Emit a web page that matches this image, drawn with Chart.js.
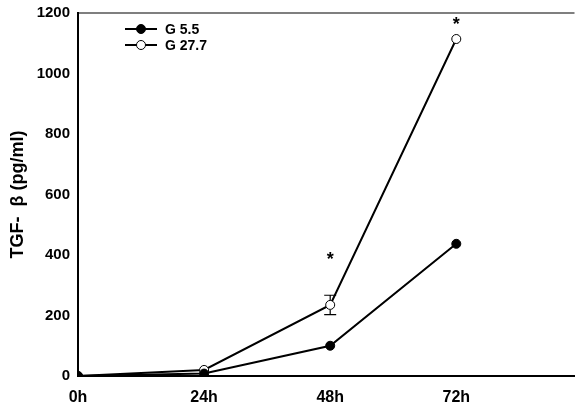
<!DOCTYPE html>
<html>
<head>
<meta charset="utf-8">
<script src="https://cdn.jsdelivr.net/npm/chart.js@4"></script>
<style>
  html, body { margin: 0; padding: 0; background: #fff; }
  #wrap { width: 580px; height: 410px; }
</style>
</head>
<body>
<div id="wrap"><canvas id="chart" width="580" height="410"></canvas></div>
<script>
const hours = [0, 24, 48, 72];
const g55 = [0, 8, 100, 437];
const g277 = [0, 20, 235, 1114];
const g277ErrLow = [null, null, 203, null];
const g277ErrHigh = [null, null, 267, null];
const starHours = [48, 72];
const starValues = [385, 1160];
const seriesNames = ["G 5.5", "G 27.7"];

const FONT = "'Liberation Sans', Arial, sans-serif";

// error bars, asterisks, top frame line and legend
const extras = {
  id: "extras",
  afterDatasetsDraw(chart) {
    const ctx = chart.ctx;
    const x = chart.scales.x, y = chart.scales.y;
    const area = chart.chartArea;
    ctx.save();
    ctx.strokeStyle = "#000";
    ctx.lineWidth = 1.2;
    // top line
    ctx.beginPath();
    ctx.moveTo(area.left, area.top);
    ctx.lineTo(area.right, area.top);
    ctx.stroke();
    // error bars
    hours.forEach((h, i) => {
      if (g277ErrLow[i] == null) return;
      const px = x.getPixelForValue(h);
      const pHi = y.getPixelForValue(g277ErrHigh[i]);
      const pLo = y.getPixelForValue(g277ErrLow[i]);
      const pMid = y.getPixelForValue(g277[i]);
      ctx.beginPath();
      ctx.moveTo(px, pMid - 5); ctx.lineTo(px, pHi);
      ctx.moveTo(px - 6, pHi); ctx.lineTo(px + 6, pHi);
      ctx.moveTo(px, pMid + 5); ctx.lineTo(px, pLo);
      ctx.moveTo(px - 6, pLo); ctx.lineTo(px + 6, pLo);
      ctx.stroke();
    });
    // asterisks
    ctx.fillStyle = "#000";
    ctx.font = "bold 18px " + FONT;
    ctx.textAlign = "center";
    ctx.textBaseline = "middle";
    starHours.forEach((h, i) => {
      ctx.fillText("*", x.getPixelForValue(h), y.getPixelForValue(starValues[i]));
    });
    // legend
    chart.data.datasets.forEach((ds, i) => {
      const ly = 29 + i * 16;
      ctx.lineWidth = 2;
      ctx.beginPath();
      ctx.moveTo(125, ly); ctx.lineTo(157, ly);
      ctx.stroke();
      ctx.beginPath();
      ctx.arc(141, ly, 4.5, 0, Math.PI * 2);
      ctx.fillStyle = ds.pointBackgroundColor;
      ctx.fill();
      ctx.lineWidth = 1;
      ctx.stroke();
      ctx.fillStyle = "#000";
      ctx.font = "bold 14px " + FONT;
      ctx.textAlign = "left";
      ctx.fillText(ds.label, 165, ly + 1);
    });
    ctx.restore();
  }
};

new Chart(document.getElementById("chart"), {
  type: "line",
  data: {
    datasets: [
      {
        label: seriesNames[0],
        data: hours.map((h, i) => ({ x: h, y: g55[i] })),
        borderColor: "#000",
        borderWidth: 2,
        pointRadius: 4.5,
        pointBackgroundColor: "#000",
        pointBorderColor: "#000",
        pointBorderWidth: 1
      },
      {
        label: seriesNames[1],
        data: hours.map((h, i) => ({ x: h, y: g277[i] })),
        borderColor: "#000",
        borderWidth: 2,
        pointRadius: 4.5,
        pointBackgroundColor: "#fff",
        pointBorderColor: "#000",
        pointBorderWidth: 1
      }
    ]
  },
  options: {
    responsive: false,
    animation: false,
    layout: { padding: { top: 12, right: 0, left: 0, bottom: 0 } },
    plugins: { legend: { display: false }, tooltip: { enabled: false } },
    scales: {
      x: {
        type: "linear",
        min: 0,
        max: 94.5,
        afterFit(scale) {
          scale.height = 34;
          scale.paddingRight = 0;
        },
        grid: { display: false, drawTicks: true, tickLength: 4, tickColor: "#000" },
        border: { color: "#000", width: 2 },
        ticks: {
          stepSize: 24,
          color: "#000",
          padding: 8,
          maxRotation: 0,
          font: { family: FONT, size: 16, weight: "bold" },
          callback: v => (v <= 72 ? v + "h" : "")
        }
      },
      y: {
        min: 0,
        max: 1200,
        afterFit(scale) { scale.width = 78; },
        grid: { display: false, drawTicks: true, tickLength: 4, tickColor: "#000" },
        border: { color: "#000", width: 2 },
        ticks: {
          stepSize: 200,
          color: "#000",
          padding: 4,
          font: { family: FONT, size: 15, weight: "bold" },
          callback: v => String(v)
        },
        title: {
          display: true,
          text: "TGF-  β (pg/ml)",
          color: "#000",
          padding: { top: 7, bottom: 0 },
          font: { family: FONT, size: 18, weight: "bold" }
        }
      }
    }
  },
  plugins: [extras]
});
</script>
</body>
</html>
